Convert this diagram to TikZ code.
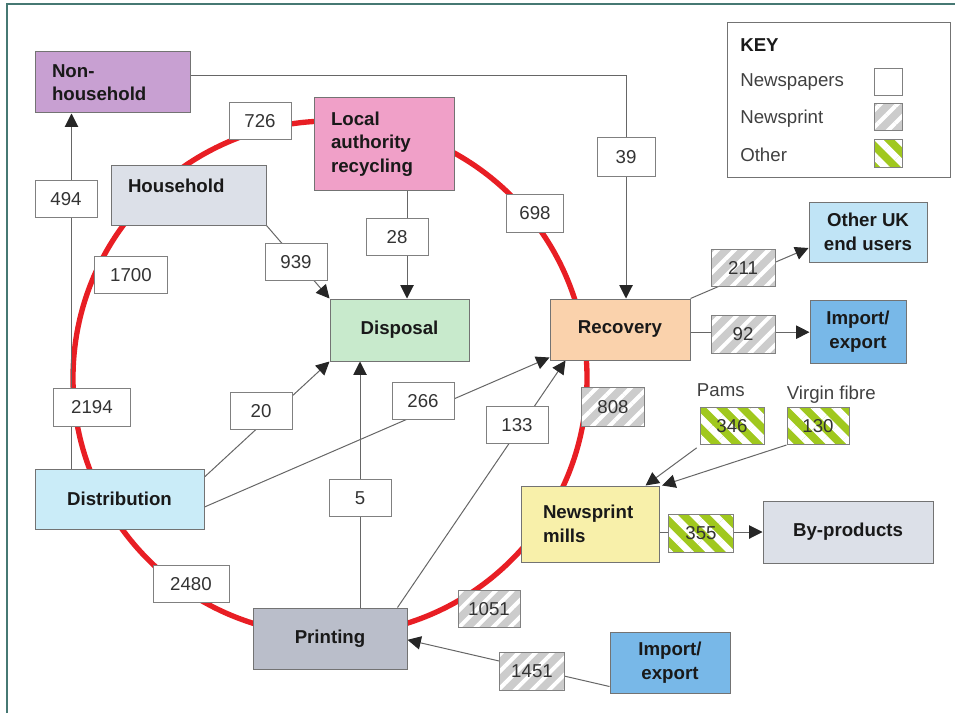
\documentclass[tikz,border=0pt]{standalone}
\usepackage{fontspec}
\setmainfont{Liberation Sans}
\usetikzlibrary{positioning,backgrounds,arrows.meta,patterns.meta}

\definecolor{ringred}{RGB}{232,30,36}
\definecolor{framec}{RGB}{70,120,115}
\definecolor{purplec}{RGB}{200,160,210}
\definecolor{housec}{RGB}{220,224,232}
\definecolor{pinkc}{RGB}{240,160,200}
\definecolor{greenc}{RGB}{200,234,204}
\definecolor{peachc}{RGB}{250,210,172}
\definecolor{skyc}{RGB}{192,228,246}
\definecolor{bluec}{RGB}{120,184,232}
\definecolor{yellowc}{RGB}{248,240,170}
\definecolor{cyanc}{RGB}{202,236,248}
\definecolor{printc}{RGB}{186,190,202}
\definecolor{limec}{RGB}{160,200,30}

\begin{document}
\begin{tikzpicture}[
  x=0.75pt, y=-0.75pt,
  every node/.style={font=\fontsize{14}{17.6}\selectfont},
  sz/.style 2 args={minimum width=#1*0.75pt, minimum height=#2*0.75pt},
  box/.style={draw=black!55, line width=0.75pt, inner sep=0pt, text=black!90, font=\fontsize{14}{17.6}\selectfont\bfseries},
  cbox/.style={box, align=center},
  lbox/.style 2 args={box, align=left, text width=#1, inner xsep=#2},
  num/.style={draw=black!50, fill=white, line width=0.75pt, sz={62}{37}, inner sep=0pt, text=black!80},
  nprint/.style={num, preaction={fill=black!20}, pattern={Lines[angle=45,distance=9pt,line width=3pt]}, pattern color=white},
  other/.style={num, preaction={fill=limec}, pattern={Lines[angle=-45,distance=11pt,line width=5pt]}, pattern color=white},
  keytext/.style={anchor=west, inner sep=0pt, text=black!75},
  flow/.style={draw=black!60, line width=0.75pt, -{Triangle[length=10pt,width=10pt,color=black!85]}},
  ring/.style={draw=ringred, line width=4pt}
]
\useasboundingbox (0,0) rectangle (955,713);
\draw[framec, line width=1.5pt] (7,713) -- (7,4) -- (955,4);

\node[lbox={90.75pt}{12.75pt}, fill=purplec, sz={155}{61}] (nonhh) at (112.5,82.5) {Non-\\household};
\node[lbox={90.75pt}{12.75pt}, fill=housec, sz={155}{60}, text depth=13.5pt] (house) at (188.5,195) {Household};
\node[lbox={79.5pt}{12.75pt}, fill=pinkc, sz={140}{92}] (larec) at (384,144) {Local\\authority\\recycling};
\node[cbox, fill=greenc, sz={139}{62}] (disposal) at (399.5,330) {Disposal};
\node[cbox, fill=peachc, sz={140}{61}] (recovery) at (620,329.5) {Recovery};
\node[cbox, fill=skyc, sz={118}{60}] (otheruk) at (868,232) {Other UK\\end users};
\node[cbox, fill=bluec, sz={96}{63}] (impexp) at (858,331.5) {Import/\\export};
\node[lbox={70.5pt}{16.5pt}, fill=yellowc, sz={138}{76}] (mills) at (590,524) {Newsprint\\mills};
\node[cbox, fill=housec, sz={170}{62}] (byprod) at (848,532) {By-products};
\node[cbox, fill=cyanc, sz={169}{60}] (distrib) at (119.5,499) {Distribution};
\node[cbox, fill=printc, sz={154}{61}] (printing) at (330,638.5) {Printing};
\node[cbox, fill=bluec, sz={120}{61}] (impexp2) at (670,662.5) {Import/\\export};

\node[num] (f726) at (260,121) {726};
\node[num] (f494) at (66,199) {494};
\node[num, sz={73}{37}] (f1700) at (131,275) {1700};
\node[num, sz={77}{38}] (f2194) at (92,407) {2194};
\node[num] (f939) at (296,262) {939};
\node[num] (f28) at (397,237) {28};
\node[num, sz={57}{38}] (f698) at (535,213) {698};
\node[num, sz={58}{38}] (f39) at (626,157) {39};
\node[num] (f20) at (261,411) {20};
\node[num] (f266) at (423,401) {266};
\node[num] (f5) at (360,498) {5};
\node[num] (f133) at (517,425) {133};
\node[num, sz={76}{37}] (f2480) at (191,584) {2480};
\node[nprint, sz={63}{39}] (f808) at (613,407) {808};
\node[nprint, sz={64}{37}] (f211) at (743,268) {211};
\node[nprint, sz={64}{38}] (f92) at (743,334) {92};
\node[nprint] (f1051) at (489,609) {1051};
\node[nprint, sz={65}{38}] (f1451) at (532,671) {1451};
\node[other, sz={64}{37}] (f346) at (732,426) {346};
\node[other] (f130) at (818,426) {130};
\node[other, sz={65}{38}] (f355) at (701,533) {355};
\node[keytext, above=6pt of f346.north west, anchor=base west] (pams) {Pams};
\node[keytext, above=6pt of f130.north west, anchor=base west] (virgin) {Virgin fibre};

\node[draw=black!55, line width=0.75pt, sz={223}{154}] (key) at (838.5,100) {};
\node[keytext, text=black!90, font=\fontsize{14}{17.6}\selectfont\bfseries] (keytitle) at (740,45) {KEY};
\node[keytext] (knews) at (740,82.5) {Newspapers};
\node[keytext] (kprint) at (740,118.5) {Newsprint};
\node[keytext] (kother) at (740,154.5) {Other};
\node[num, sz={28}{27}] (swnews) at (888,82.5) {};
\node[nprint, sz={28}{27}] (swprint) at (888,117.5) {};
\node[other, sz={28}{27}] (swother) at (888,153.5) {};

\begin{scope}[on background layer]
\coordinate (hub) at (330,378);
\draw[ring] (hub) circle[radius=257];
\draw[flow] ([yshift=5.6pt]nonhh.east) -| ([xshift=4.5pt]recovery.north);
\draw[flow] ([xshift=27.75pt]distrib.north west) -- ([xshift=27.75pt]nonhh.south west);
\draw[flow] (house.south east) -- (disposal.north west);
\draw[flow] ([xshift=17.25pt]larec.south) -- ([xshift=17.25pt]larec.south |- disposal.north);
\draw[flow] ([yshift=16.5pt]distrib.east) -- (disposal.south west);
\draw[flow] ([yshift=-6pt]distrib.east) -- ([yshift=2.25pt]recovery.south west);
\draw[flow] ([xshift=22.5pt]printing.north) -- ([xshift=22.5pt]printing.north |- disposal.south);
\draw[flow] ([xshift=-7.5pt]printing.north east) -- ([xshift=12pt]recovery.south west);
\draw[flow] (recovery.north east) -- ([yshift=-12pt]otheruk.west);
\draw[flow] ([yshift=-2pt]recovery.east) -- ([yshift=-2pt]recovery.east -| impexp.west);
\draw[flow] (f346.south west) -- ([xshift=-10.5pt]mills.north east);
\draw[flow] (f130.south west) -- ([xshift=2pt]mills.north east);
\draw[flow] (mills.east |- byprod.west) -- (byprod.west);
\draw[flow] ([yshift=-18pt]impexp2.west) -- ([yshift=-1pt]printing.east);
\end{scope}
\end{tikzpicture}
\end{document}
